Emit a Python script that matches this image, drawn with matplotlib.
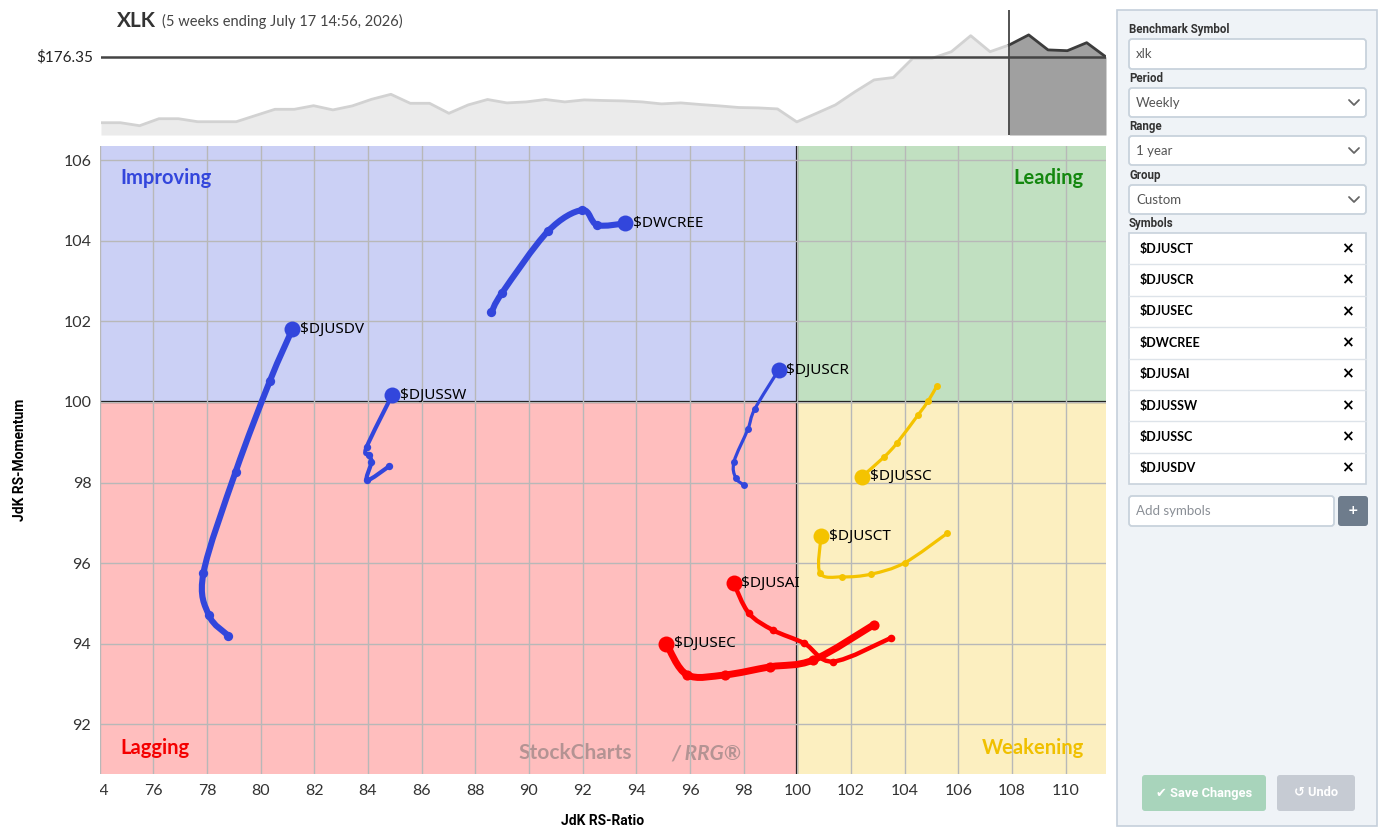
import numpy as np
import matplotlib
matplotlib.use("Agg")
import matplotlib.pyplot as plt
from matplotlib.path import Path
from matplotlib.patches import PathPatch, Rectangle, FancyBboxPatch
from matplotlib.transforms import Bbox, TransformedBbox

# ---------------- data ----------------
benchmark = "XLK"
subtitle = "(5 weeks ending July 17 14:56, 2026)"
last_price = 176.35

# weekly benchmark closes (1 year)
price_weeks = list(range(53))
price_close = [143.5, 143.5, 142.0, 145.5, 145.5, 144.0, 144.0, 144.0, 147.1, 150.2,
               150.2, 152.0, 149.9, 151.9, 155.2, 157.7, 153.2, 153.2, 148.2, 152.4,
               155.1, 153.4, 153.9, 155.1, 153.9, 154.9, 154.6, 154.4, 153.9, 152.9,
               153.4, 152.6, 151.9, 151.1, 150.9, 150.4, 143.9, 148.1, 152.4, 158.9,
               164.9, 166.1, 175.7, 175.7, 179.0, 187.0, 179.0, 182.4, 187.4, 179.9,
               179.5, 183.5, 176.35]
trail_start_week = 47

# RRG trails (tail -> head)
djusdv_ratio = [78.80, 78.07, 77.87, 79.07, 80.35, 81.18]
djusdv_mom = [94.20, 94.71, 95.76, 98.27, 100.53, 101.80]

dwcree_ratio = [88.60, 89.00, 90.70, 91.98, 92.54, 93.59]
dwcree_mom = [102.22, 102.71, 104.23, 104.76, 104.39, 104.43]

djussw_ratio = [84.80, 83.97, 84.13, 84.02, 83.95, 84.90]
djussw_mom = [98.41, 98.06, 98.51, 98.68, 98.88, 100.17]

djuscr_ratio = [98.00, 97.70, 97.64, 98.16, 98.41, 99.30]
djuscr_mom = [97.94, 98.12, 98.52, 99.33, 99.82, 100.79]

djussc_ratio = [105.20, 104.87, 104.50, 103.71, 103.24, 102.41]
djussc_mom = [100.40, 100.02, 99.68, 98.98, 98.64, 98.15]

djusct_ratio = [105.58, 104.00, 102.76, 101.68, 100.84, 100.88]
djusct_mom = [96.74, 96.01, 95.73, 95.66, 95.76, 96.67]

djusai_ratio = [103.50, 101.33, 100.26, 99.09, 98.19, 97.63]
djusai_mom = [94.15, 93.56, 94.01, 94.34, 94.76, 95.50]

djusec_ratio = [102.84, 100.60, 98.99, 97.32, 95.89, 95.12]
djusec_mom = [94.47, 93.60, 93.43, 93.23, 93.23, 94.00]

panel_symbols = ["$DJUSCT", "$DJUSCR", "$DJUSEC", "$DWCREE",
                 "$DJUSAI", "$DJUSSW", "$DJUSSC", "$DJUSDV"]

x_ticks = list(range(74, 112, 2))
y_ticks = list(range(92, 108, 2))

# ---------------- styles ----------------
BLUE = "#3246dc"
RED = "#ff0000"
YELLOW = "#f4c300"

series = [
    ("$DJUSDV", djusdv_ratio, djusdv_mom, BLUE, 4.4),
    ("$DWCREE", dwcree_ratio, dwcree_mom, BLUE, 4.4),
    ("$DJUSSW", djussw_ratio, djussw_mom, BLUE, 3.0),
    ("$DJUSCR", djuscr_ratio, djuscr_mom, BLUE, 2.3),
    ("$DJUSSC", djussc_ratio, djussc_mom, YELLOW, 2.3),
    ("$DJUSCT", djusct_ratio, djusct_mom, YELLOW, 2.3),
    ("$DJUSAI", djusai_ratio, djusai_mom, RED, 3.2),
    ("$DJUSEC", djusec_ratio, djusec_mom, RED, 5.0),
]

W, H = 1384, 833
fig = plt.figure(figsize=(W / 100, H / 100), dpi=100)
fig.patch.set_facecolor("white")


def fx(px):
    return px / W


def fy(py):
    return 1 - py / H


# ---------------- main RRG axes ----------------
L, R, T, B = 99.6, 1106, 146, 774
ax = fig.add_axes([fx(L), fy(B), fx(R) - fx(L), fy(T) - fy(B)])
xmin, xmax = 74.0, 111.5
ymin, ymax = 90.77, 106.35
ax.set_xlim(xmin, xmax)
ax.set_ylim(ymin, ymax)

ax.add_patch(Rectangle((xmin, 100), 100 - xmin, ymax - 100, color="#cbd0f5", zorder=0, lw=0))
ax.add_patch(Rectangle((100, 100), xmax - 100, ymax - 100, color="#c1e0c1", zorder=0, lw=0))
ax.add_patch(Rectangle((xmin, ymin), 100 - xmin, 100 - ymin, color="#ffbebe", zorder=0, lw=0))
ax.add_patch(Rectangle((100, ymin), xmax - 100, 100 - ymin, color="#fcefc0", zorder=0, lw=0))

ax.set_xticks(x_ticks)
ax.set_yticks(y_ticks)
ax.grid(True, color="#b8b8b8", lw=1.0, zorder=1)
ax.set_axisbelow(False)
ax.tick_params(length=0, labelsize=11.5, labelcolor="#333333")
ax.tick_params(axis="x", pad=7)
ax.tick_params(axis="y", pad=6)
for lab in ax.get_xticklabels() + ax.get_yticklabels():
    lab.set_fontfamily("Lato")
clipbox = TransformedBbox(Bbox([[0.0, -1.0], [2.0, 2.0]]), ax.transAxes)
for lab in ax.get_xticklabels():
    lab.set_clip_box(clipbox)
    lab.set_clip_on(True)
for s in ax.spines.values():
    s.set_visible(False)

ax.axvline(100, color="black", lw=1.6, zorder=2)
ax.axhline(100, color="black", lw=1.6, zorder=2)

ax.set_xlabel("JdK RS-Ratio", fontsize=10, fontweight="bold", family="Roboto", labelpad=12)
ax.set_ylabel("JdK RS-Momentum", fontsize=10, fontweight="bold", family="Roboto", labelpad=26)

qfont = dict(fontsize=14.5, fontweight="bold", family="Lato", zorder=3)
ax.text(0.021, 0.949, "Improving", color="#3346dc", transform=ax.transAxes, va="center", ha="left", **qfont)
ax.text(0.978, 0.949, "Leading", color="#14870f", transform=ax.transAxes, va="center", ha="right", **qfont)
ax.text(0.021, 0.041, "Lagging", color="#f40000", transform=ax.transAxes, va="center", ha="left", **qfont)
ax.text(0.978, 0.041, "Weakening", color="#f0c000", transform=ax.transAxes, va="center", ha="right", **qfont)

# watermark
ax.text(0.416, 0.033, "StockCharts", transform=ax.transAxes, fontsize=15, fontweight="bold",
        family="Lato", color="#6a6a6a", alpha=0.5, va="center", ha="left", zorder=2)
ax.text(0.568, 0.033, "/ RRG®", transform=ax.transAxes, fontsize=15, fontweight="bold",
        style="italic", family="Lato", color="#6a6a6a", alpha=0.5, va="center", ha="left", zorder=2)


def smooth_path(xs, ys):
    pts = np.column_stack([xs, ys]).astype(float)
    n = len(pts)
    ext = np.vstack([pts[0], pts, pts[-1]])
    verts = [pts[0]]
    codes = [Path.MOVETO]
    for i in range(n - 1):
        p0, p1, p2, p3 = ext[i], ext[i + 1], ext[i + 2], ext[i + 3]
        c1 = p1 + (p2 - p0) / 6.0
        c2 = p2 - (p3 - p1) / 6.0
        verts += [c1, c2, p2]
        codes += [Path.CURVE4, Path.CURVE4, Path.CURVE4]
    return Path(verts, codes)


for name, xs, ys, col, lw in series:
    patch = PathPatch(smooth_path(xs, ys), facecolor="none", edgecolor=col, lw=lw,
                      capstyle="round", joinstyle="round", zorder=4)
    ax.add_patch(patch)
    ax.plot(xs[:-1], ys[:-1], "o", color=col, ms=max(5.0, lw + 2.3), mec="none", zorder=5)
    ax.plot(xs[-1:], ys[-1:], "o", color=col, ms=11.5, mec="none", zorder=6)
    ax.annotate(name, (xs[-1], ys[-1]), xytext=(5.5, 0), textcoords="offset points",
                va="center", ha="left", fontsize=11, family="Noto Sans", color="black", zorder=7)

# ---------------- price strip ----------------
PT, PB = 10, 135
axp = fig.add_axes([fx(101), fy(PB), fx(1106) - fx(101), fy(PT) - fy(PB)])
axp.set_xlim(0, 52)
pmin, pmax = 137.35, 199.85
axp.set_ylim(pmin, pmax)
axp.axis("off")
wk = np.array(price_weeks)
pc = np.array(price_close)
early = wk <= trail_start_week
late = wk >= trail_start_week
axp.fill_between(wk[early], pc[early], pmin, color="#ebebeb", lw=0, zorder=1)
axp.plot(wk[early], pc[early], color="#d2d2d2", lw=2.0, zorder=2)
axp.fill_between(wk[late], pc[late], pmin, color="#a0a0a0", lw=0, zorder=1)
axp.plot(wk[late], pc[late], color="#3c3c3c", lw=2.0, zorder=3)
axp.axhline(last_price, color="#444444", lw=1.8, zorder=4)
axp.axvline(trail_start_week, color="#444444", lw=1.3, zorder=4)

# ---------------- overlay (titles + side panel) ----------------
ui = fig.add_axes([0, 0, 1, 1], zorder=-1)
ui.set_xlim(0, W)
ui.set_ylim(H, 0)
ui.axis("off")

ui.text(117, 21, benchmark, fontsize=15, fontweight="bold", family="Lato", color="#333333",
        va="center", ha="left")
ui.text(162, 21, subtitle, fontsize=10.5, family="Lato", color="#444444", va="center", ha="left")
ui.text(93, 57, f"${last_price:.2f}", fontsize=11, family="Lato", color="#222222",
        va="center", ha="right")

# panel
ui.add_patch(Rectangle((1117, 10), 260, 816, facecolor="#eff3f7", edgecolor="#c5d0db", lw=1.2))

lab_font = dict(fontsize=8.3, fontweight="bold", family="Roboto", color="#333333", va="center", ha="left")
box_font = dict(fontsize=9.5, family="Lato", color="#555555", va="center", ha="left")


def input_box(x0, y0, w, h):
    ui.add_patch(FancyBboxPatch((x0, y0), w, h, boxstyle="round,pad=0,rounding_size=3",
                                facecolor="white", edgecolor="#c8d2dc", lw=1.3))


def chevron(xc, yc):
    ui.plot([xc - 5, xc, xc + 5], [yc - 2.5, yc + 2.5, yc - 2.5], color="#666666", lw=1.3,
            solid_capstyle="round")


ui.text(1129, 29, "Benchmark Symbol", **lab_font)
input_box(1129, 39, 237, 30)
ui.text(1136, 54, "xlk", **box_font)

fields = [("Period", "Weekly", 78, 88), ("Range", "1 year", 126, 136), ("Group", "Custom", 175, 185)]
for lab, val, ly, by in fields:
    ui.text(1129, ly, lab, **lab_font)
    input_box(1129, by, 237, 29)
    ui.text(1136, by + 14.5, val, **box_font)
    chevron(1354, by + 14.5)

ui.text(1129, 223, "Symbols", **lab_font)
ui.add_patch(Rectangle((1129, 233), 237, 251, facecolor="white", edgecolor="#c8d2dc", lw=1.2))
row_h = 251 / len(panel_symbols)
for i, sym in enumerate(panel_symbols):
    yc = 233 + row_h * (i + 0.5)
    ui.text(1140, yc, sym, fontsize=9, fontweight="bold", family="Lato", color="black",
            va="center", ha="left")
    ui.text(1347, yc, "×", fontsize=11, fontweight="bold", family="DejaVu Sans", color="black",
            va="center", ha="center")
    if i > 0:
        ys_ = 233 + row_h * i
        ui.plot([1129, 1366], [ys_, ys_], color="#dde3e9", lw=1.0)

input_box(1129, 496, 205, 30)
ui.text(1136, 511, "Add symbols", fontsize=9.5, family="Lato", color="#8a8f96", va="center", ha="left")
ui.add_patch(FancyBboxPatch((1338, 496), 30, 30, boxstyle="round,pad=0,rounding_size=3",
                            facecolor="#6e7c8c", edgecolor="none"))
ui.text(1353, 511, "+", fontsize=9, fontweight="bold", color="white", va="center", ha="center")

ui.add_patch(FancyBboxPatch((1142, 775), 124, 36, boxstyle="round,pad=0,rounding_size=3",
                            facecolor="#a8d4bb", edgecolor="none"))
ui.text(1204, 793, "✔ Save Changes", fontsize=9.3, fontweight="bold",
        family=["Roboto", "DejaVu Sans"], color="white", va="center", ha="center")
ui.add_patch(FancyBboxPatch((1277, 775), 78, 36, boxstyle="round,pad=0,rounding_size=3",
                            facecolor="#c6cbd3", edgecolor="none"))
ui.text(1316, 793, "↺ Undo", fontsize=9.3, fontweight="bold",
        family=["Roboto", "DejaVu Sans"], color="white", va="center", ha="center")

fig.savefig("out.png", dpi=100)
